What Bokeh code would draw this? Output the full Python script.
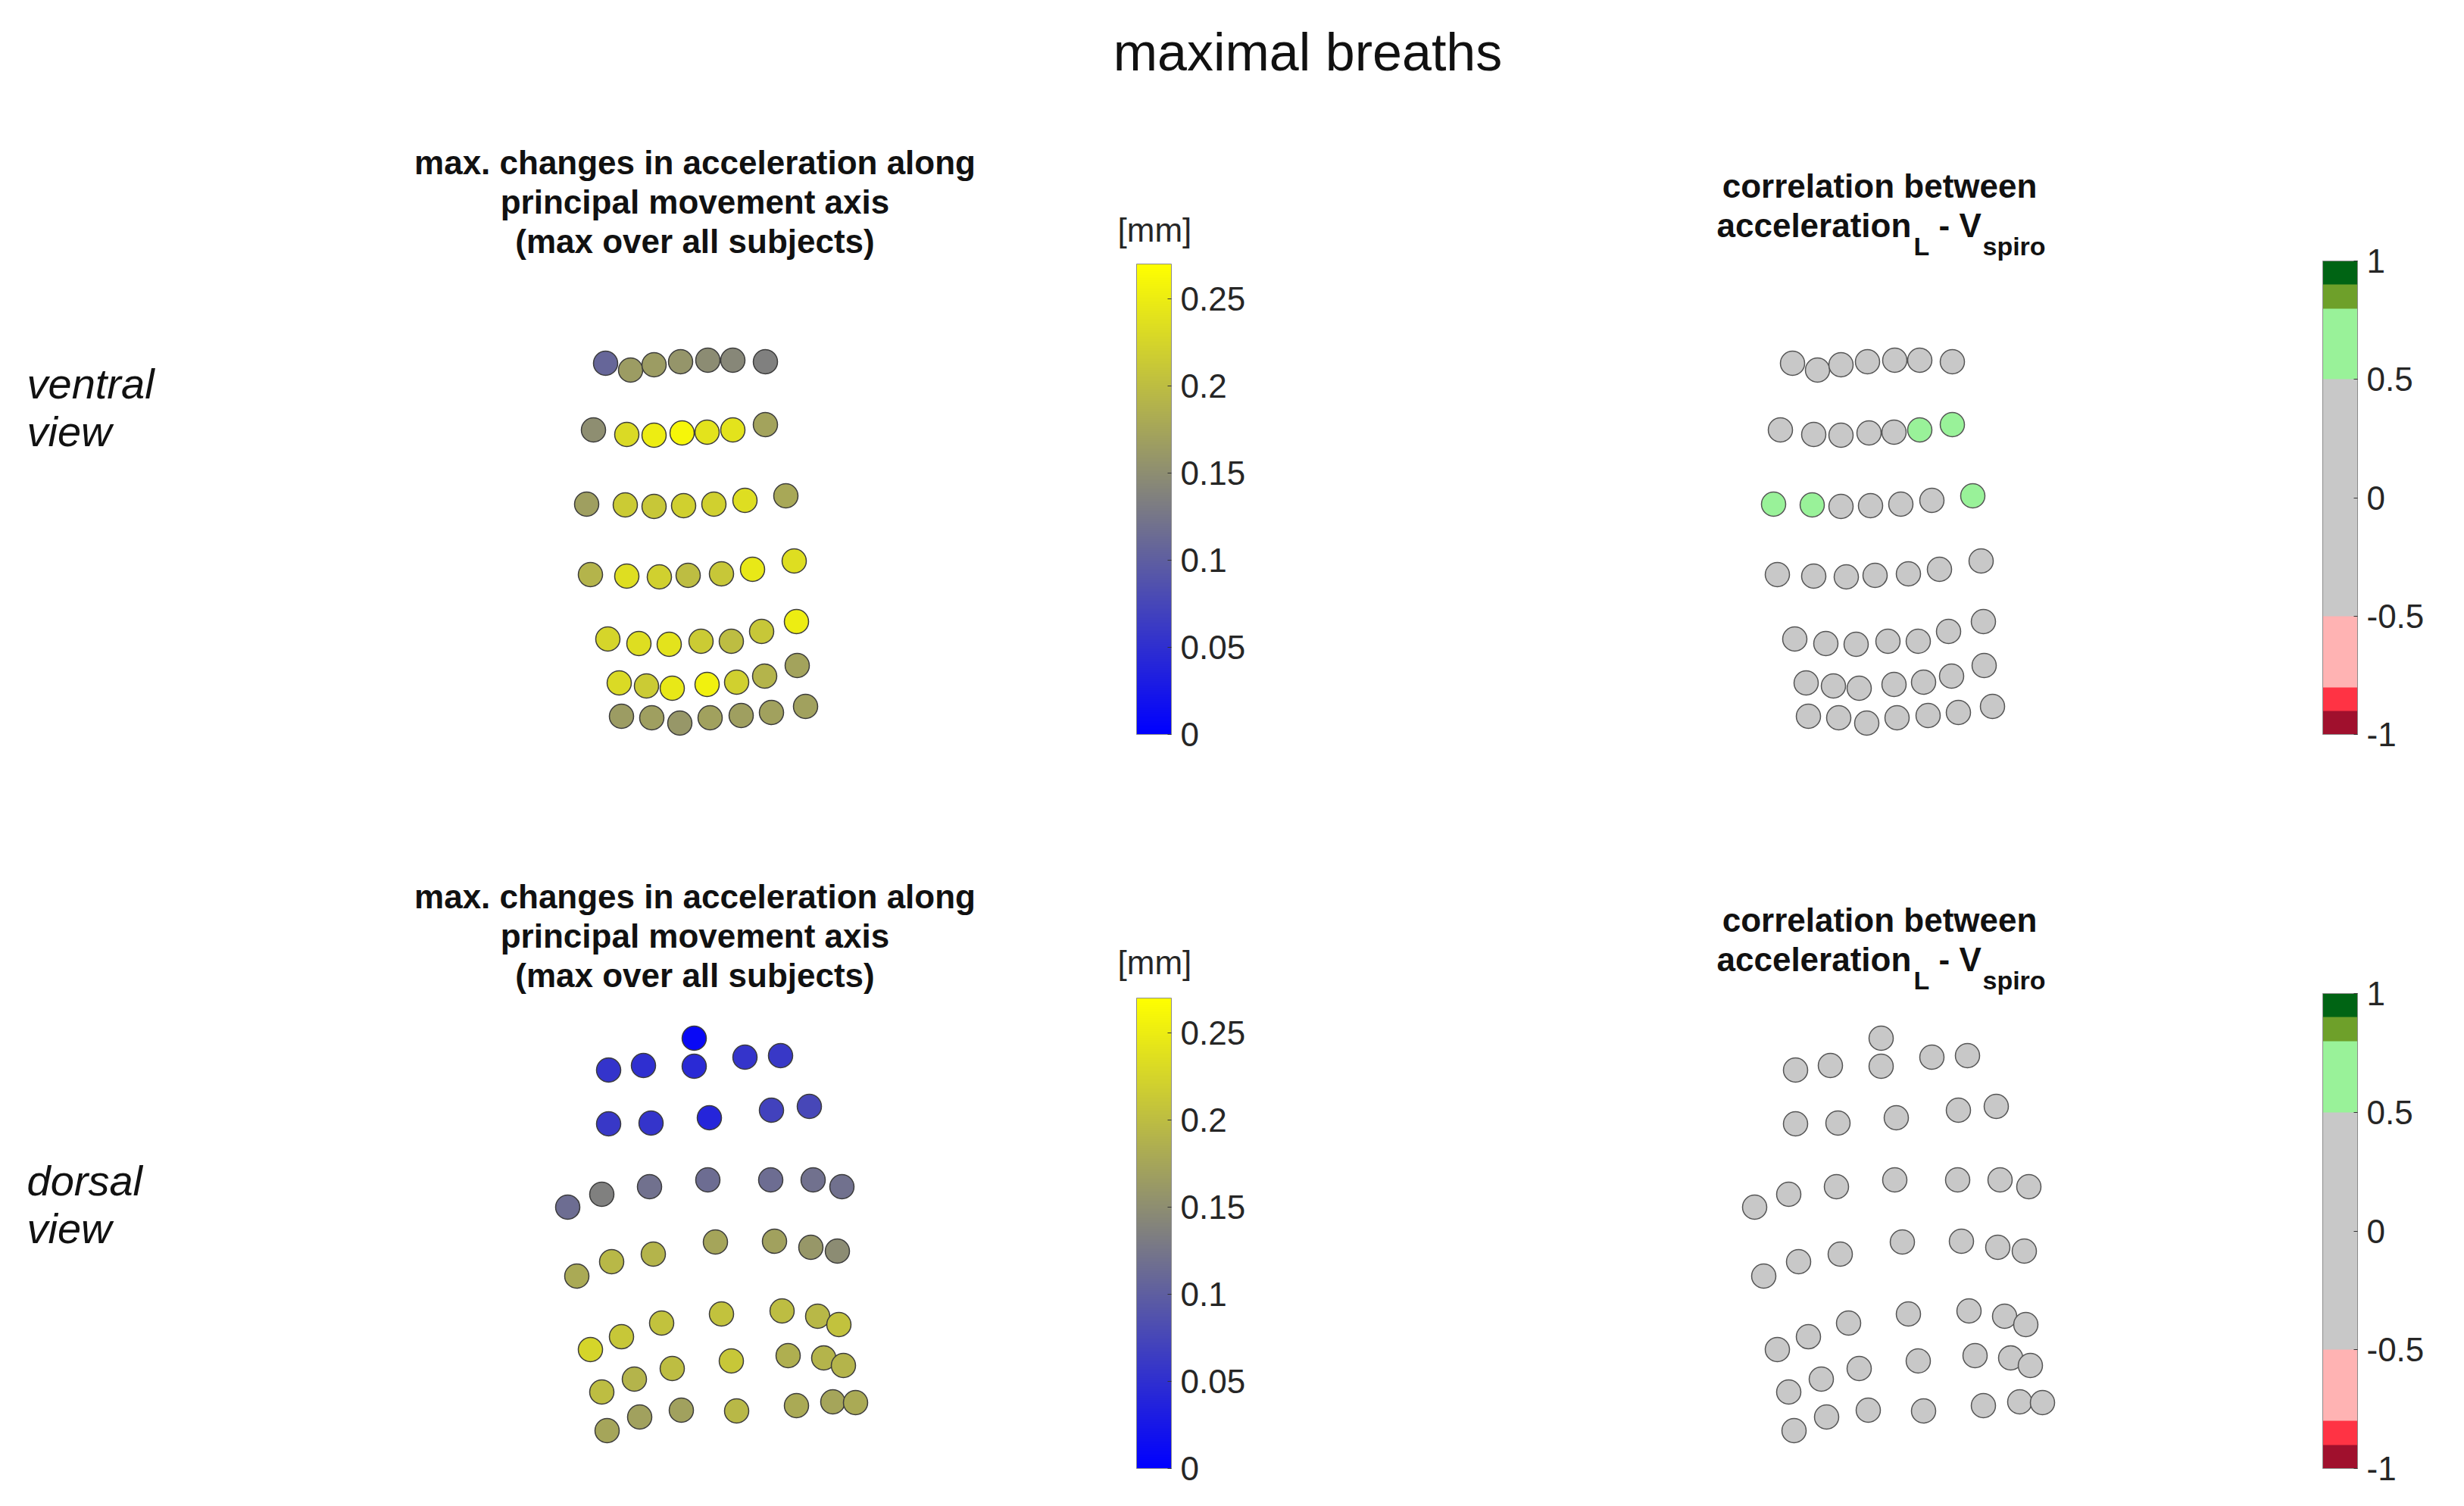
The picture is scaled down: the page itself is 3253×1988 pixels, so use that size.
from bokeh.plotting import figure
from bokeh.models import (Range1d, LinearColorMapper, ColorBar, FixedTicker,
                          CustomJSTickFormatter, ColumnDataSource)
from bokeh.core.properties import value
from bokeh.embed import file_html
from bokeh.resources import INLINE

# ---------------- data ----------------
# sensor positions (reference-pixel units), ventral view, 7 rows x 7 sensors
ventral_x = [799, 832, 863, 898, 934, 967, 1010,
             783, 827, 863, 900, 933, 967, 1010,
             774, 825, 863, 902, 942, 983, 1037,
             779, 827, 870, 908, 952, 993, 1048,
             802, 843, 883, 925, 965, 1005, 1051,
             817, 853, 887, 933, 972, 1009, 1052,
             820, 860, 897, 937, 978, 1018, 1063]
ventral_y = [479, 488, 481, 477, 475, 475, 477,
             567, 573, 574, 571, 570, 567, 560,
             665, 666, 668, 667, 665, 660, 654,
             758, 760, 761, 759, 757, 751, 740,
             843, 849, 850, 846, 846, 833, 820,
             901, 905, 908, 903, 900, 892, 878,
             945, 947, 954, 947, 944, 940, 932]
# max. changes in acceleration [mm], ventral
ventral_acc = [0.108, 0.165, 0.165, 0.158, 0.148, 0.143, 0.136,
               0.150, 0.230, 0.250, 0.260, 0.240, 0.240, 0.172,
               0.168, 0.215, 0.210, 0.220, 0.220, 0.235, 0.178,
               0.190, 0.235, 0.220, 0.200, 0.210, 0.245, 0.235,
               0.225, 0.235, 0.240, 0.215, 0.200, 0.210, 0.250,
               0.230, 0.215, 0.245, 0.255, 0.220, 0.190, 0.172,
               0.165, 0.168, 0.160, 0.170, 0.168, 0.170, 0.170]
# correlation acceleration_L - V_spiro, ventral
ventral_corr = [0.21, 0.18, 0.25, 0.30, 0.27, 0.33, 0.29,
                0.12, 0.22, 0.31, 0.35, 0.41, 0.58, 0.62,
                0.56, 0.60, 0.38, 0.33, 0.29, 0.36, 0.63,
                0.15, 0.24, 0.19, 0.27, 0.22, 0.31, 0.26,
                0.08, 0.14, 0.11, 0.20, 0.17, 0.23, 0.19,
                0.05, 0.10, 0.02, 0.13, 0.09, 0.16, 0.12,
                -0.04, 0.03, -0.02, 0.06, 0.01, 0.08, 0.04]

# sensor positions, dorsal view (46 sensors)
dorsal_x = [916,
            803, 849, 916, 983, 1030,
            803, 859, 936, 1018, 1068,
            749, 794, 857, 934, 1017, 1073, 1111,
            761, 807, 862, 944, 1022, 1070, 1105,
            779, 820, 873, 952, 1032, 1079, 1107,
            794, 837, 887, 965, 1040, 1087, 1113,
            801, 844, 899, 972, 1051, 1099, 1129]
dorsal_y = [1370,
            1412, 1406, 1407, 1395, 1393,
            1483, 1482, 1475, 1465, 1460,
            1593, 1576, 1566, 1557, 1557, 1557, 1566,
            1684, 1665, 1655, 1639, 1638, 1646, 1651,
            1781, 1764, 1746, 1734, 1730, 1737, 1748,
            1837, 1820, 1806, 1796, 1789, 1792, 1802,
            1888, 1870, 1861, 1862, 1855, 1850, 1851]
dorsal_acc = [0.010,
              0.055, 0.050, 0.045, 0.055, 0.060,
              0.060, 0.055, 0.040, 0.070, 0.075,
              0.115, 0.135, 0.120, 0.115, 0.115, 0.120, 0.120,
              0.180, 0.195, 0.190, 0.175, 0.170, 0.160, 0.148,
              0.225, 0.210, 0.205, 0.205, 0.200, 0.195, 0.205,
              0.200, 0.190, 0.200, 0.210, 0.185, 0.190, 0.190,
              0.175, 0.170, 0.170, 0.195, 0.180, 0.175, 0.180]
dorsal_corr = [0.12,
               0.05, 0.09, 0.15, 0.11, 0.07,
               0.02, 0.10, 0.18, 0.14, 0.06,
               -0.05, 0.03, 0.12, 0.21, 0.17, 0.08, 0.04,
               -0.08, 0.01, 0.09, 0.19, 0.16, 0.11, 0.06,
               -0.12, -0.03, 0.05, 0.14, 0.10, 0.07, 0.02,
               -0.10, -0.06, 0.03, 0.08, 0.06, 0.01, -0.02,
               -0.14, -0.09, -0.01, 0.04, 0.02, -0.03, -0.05]

acc_ticks = [0, 0.05, 0.1, 0.15, 0.2, 0.25]
corr_ticks = [-1, -0.5, 0, 0.5, 1]

main_title = "maximal breaths"
acc_title = ["max. changes in acceleration along",
             "principal movement axis",
             "(max over all subjects)"]
corr_title_1 = "correlation between"
acc_unit = "[mm]"
row_labels = [["ventral", "view"], ["dorsal", "view"]]

# ---------------- colour maps ----------------
acc_palette = []
for i in range(256):
    t = i / 255.0
    r = int(round(255 * t))
    b = int(round(255 * (1 - t)))
    acc_palette.append("#%02x%02x%02x" % (r, r, b))
acc_mapper = LinearColorMapper(palette=acc_palette, low=0, high=0.27)

corr_palette = (["#A0102D", "#FF3344"] + ["#FFB3B3"] * 3 + ["#C8C8C8"] * 10 +
                ["#99F299"] * 3 + ["#6EA02A", "#006414"])
corr_mapper = LinearColorMapper(palette=corr_palette, low=-1, high=1)

# ---------------- figure ----------------
W, H = 3237, 1972
p = figure(width=W, height=H, output_backend="svg", toolbar_location=None,
           x_range=Range1d(0, W), y_range=Range1d(H, 0),
           x_axis_location=None, y_axis_location=None, min_border=0,
           outline_line_color=None)
p.grid.visible = False
p.background_fill_color = "white"

FONT = value("Liberation Sans")
RIGHT_DX = 1567  # horizontal offset of correlation panels

def dots(xs, ys, vals, mapper, dx, edge):
    src = ColumnDataSource(dict(x=[x + dx for x in xs], y=ys, v=vals))
    p.scatter("x", "y", source=src, size=32,
              fill_color={"field": "v", "transform": mapper},
              line_color=edge, line_width=1.5)

dots(ventral_x, ventral_y, ventral_acc, acc_mapper, 0, "#3c3c3c")
dots(dorsal_x, dorsal_y, dorsal_acc, acc_mapper, 0, "#3c3c3c")
dots(ventral_x, ventral_y, ventral_corr, corr_mapper, RIGHT_DX, "#555555")
dots(dorsal_x, dorsal_y, dorsal_corr, corr_mapper, RIGHT_DX, "#555555")

# ---------------- texts ----------------
p.text(x=[1726], y=[68], text=[main_title], text_font=FONT, text_font_size="70px",
       text_align="center", text_baseline="alphabetic", text_color="#111111")

for base in (214, 1183):
    p.text(x=[917] * 3, y=[base, base + 52, base + 104], text=acc_title,
           text_font=FONT, text_font_size="44px", text_font_style="bold",
           text_align="center", text_baseline="alphabetic", text_color="#111111")

for base in (245, 1214):
    p.text(x=[2481], y=[base], text=[corr_title_1], text_font=FONT,
           text_font_size="44px", text_font_style="bold", text_align="center",
           text_baseline="alphabetic", text_color="#111111")
    b2 = base + 52
    x0 = 2266
    p.text(x=[x0, x0 + 293], y=[b2, b2], text=["acceleration", "- V"],
           text_font=FONT, text_font_size="44px", text_font_style="bold",
           text_align="left", text_baseline="alphabetic", text_color="#111111")
    p.text(x=[x0 + 260, x0 + 351], y=[b2 + 27, b2 + 27], text=["L", "spiro"],
           text_font=FONT, text_font_size="34px", text_font_style="bold",
           text_align="left", text_baseline="alphabetic", text_color="#111111")

for (w1, w2), base in zip(row_labels, (506, 1558)):
    p.text(x=[35, 35], y=[base, base + 63], text=[w1, w2], text_font=FONT,
           text_font_size="56px", text_font_style="italic", text_align="left",
           text_baseline="alphabetic", text_color="#111111")

for base in (303, 1270):
    p.text(x=[1475], y=[base], text=[acc_unit], text_font=FONT,
           text_font_size="44px", text_align="left", text_baseline="alphabetic",
           text_color="#262626")

# ---------------- colour bars ----------------
fmt = CustomJSTickFormatter(code="return String(Math.round(tick*100)/100);")

def cbar(mapper, ticks, loc, height):
    cb = ColorBar(color_mapper=mapper, location=loc, width=46, height=height,
                  ticker=FixedTicker(ticks=ticks), formatter=fmt, padding=0,
                  label_standoff=12, major_label_text_font_size="44px",
                  major_label_text_font="Liberation Sans",
                  major_label_text_color="#262626",
                  major_tick_in=5, major_tick_out=0,
                  major_tick_line_color="#333333", minor_tick_line_color=None,
                  bar_line_color="#8c8c8c", bar_line_width=1,
                  border_line_color=None, background_fill_color=None)
    p.add_layout(cb)

cbar(acc_mapper, acc_ticks, (1500, H - 969), 621)
cbar(acc_mapper, acc_ticks, (1500, H - 1938), 621)
cbar(corr_mapper, corr_ticks, (3066, H - 969), 625)
cbar(corr_mapper, corr_ticks, (3066, H - 1938), 627)

open("out.html", "w").write(file_html(p, INLINE))
